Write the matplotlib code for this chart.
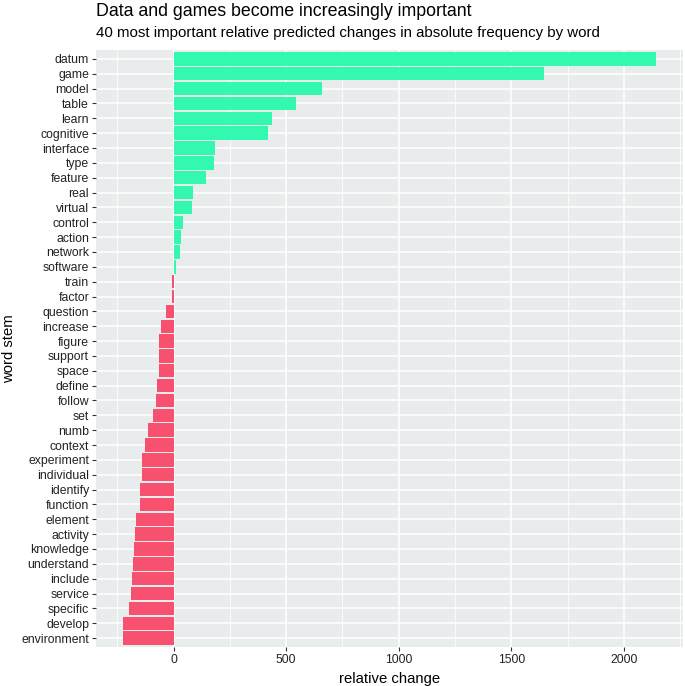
import numpy as np
import matplotlib
matplotlib.use("Agg")
import matplotlib.pyplot as plt
from matplotlib.ticker import MultipleLocator

plt.rcParams['font.family'] = ['Liberation Sans', 'DejaVu Sans']

# words from top to bottom, with relative change
words = ["datum", "game", "model", "table", "learn", "cognitive", "interface",
         "type", "feature", "real", "virtual", "control", "action", "network",
         "software", "train", "factor", "question", "increase", "figure",
         "support", "space", "define", "follow", "set", "numb", "context",
         "experiment", "individual", "identify", "function", "element",
         "activity", "knowledge", "understand", "include", "service",
         "specific", "develop", "environment"]
changes = [2144, 1646, 659, 542, 437, 418, 185,
           179, 145, 87, 80, 43, 35, 27,
           10, -6, -8, -34, -55, -63,
           -66, -66, -74, -78, -93, -112, -126,
           -139, -140, -149, -151, -165,
           -171, -176, -180, -186, -189,
           -196, -225, -226]

pos_color = "#33F8B0"
neg_color = "#F8516F"

fig = plt.figure(figsize=(6.85, 6.86), dpi=100)
ax = fig.add_axes([96 / 685, 1 - 647 / 686, 587 / 685, 597 / 686])

ypos = np.arange(len(words))[::-1]
vals = np.array(changes)
colors = [pos_color if v > 0 else neg_color for v in vals]

ax.set_facecolor("#E8ECEC")
ax.barh(ypos, vals, height=0.9, color=colors, zorder=3)

ax.margins(x=0.05)
ax.set_ylim(-0.6, len(words) - 0.4)

ax.xaxis.set_major_locator(MultipleLocator(500))
ax.xaxis.set_minor_locator(MultipleLocator(250))
ax.set_xticks([0, 500, 1000, 1500, 2000])
ax.grid(which="major", color="white", linewidth=1.1, zorder=0)
ax.grid(which="minor", axis="x", color="white", linewidth=0.55, zorder=0)

ax.set_yticks(ypos)
ax.set_yticklabels(words)
ax.tick_params(axis="both", which="major", length=3, width=0.8, color="#333333",
               labelsize=8.8, labelcolor="#222222", pad=2)
ax.tick_params(axis="x", which="minor", length=0)
for s in ax.spines.values():
    s.set_visible(False)

ax.set_xlabel("relative change", fontsize=10.7, labelpad=4)
ax.set_ylabel("word stem", fontsize=10.7, labelpad=4)

fig.text(96 / 685, 1 - 3 / 686, "Data and games become increasingly important",
         fontsize=12.8, va="top", ha="left")
fig.text(96 / 685, 1 - 26 / 686,
         "40 most important relative predicted changes in absolute frequency by word",
         fontsize=10.8, va="top", ha="left")

fig.savefig("out.png", dpi=100)
